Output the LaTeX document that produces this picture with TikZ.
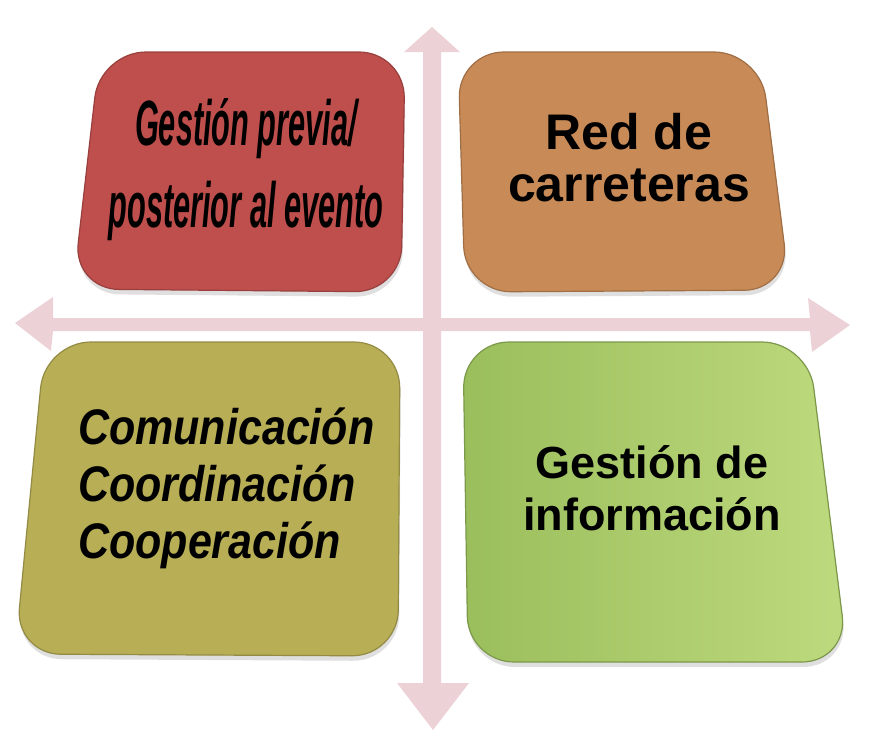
\documentclass[tikz,border=0pt]{standalone}
\usepackage{fontspec}
\setmainfont{Liberation Sans}
\usetikzlibrary{shadows}
\definecolor{axispink}{RGB}{236,210,214}
\definecolor{tilered}{RGB}{191,79,76}
\definecolor{tileorange}{RGB}{200,138,86}
\definecolor{tileolive}{RGB}{184,174,85}
\definecolor{tilegreenL}{RGB}{155,190,92}
\definecolor{tilegreenR}{RGB}{190,218,126}
\tikzset{
  panel/.style={rounded corners=46pt, line width=1.2pt,
    drop shadow={opacity=0.25, shadow xshift=1pt, shadow yshift=-5pt}},
  label/.style={inner sep=0pt, text=black}
}
\begin{document}
\begin{tikzpicture}[x=1pt, y=-1pt]
    \useasboundingbox (0,0) rectangle (876,747);
    % crossing axes
    \coordinate (n) at (432,27); \coordinate (s) at (433,730); \coordinate (w) at (15,323); \coordinate (e) at (850,325);
    \fill[axispink] (n) -- (460,52) -- (441,52) -- (441,683) -- (469,683) -- (s)
        -- (397,683) -- (423,683) -- (423,52) -- (404,52) -- cycle;
    \fill[axispink] (w) -- (53,297) -- (53,318) -- (810,318) -- (808,298) -- (e)
        -- (812,352) -- (810,331) -- (53,331) -- (51,351) -- cycle;
    % four tiles
    \draw[panel, fill=tilered, draw=tilered!80!black] (100,52) -- (405,52) -- (401,292) -- (73,289) -- cycle;
    \draw[panel, fill=tileorange, draw=tileorange!80!black] (458,52) -- (760,52) -- (790,290) -- (465,292) -- cycle;
    \draw[panel, fill=tileolive, draw=tileolive!80!black] (45,342) -- (400,342) -- (398,656) -- (15,654) -- cycle;
    \draw[panel, left color=tilegreenL, right color=tilegreenR, draw=tilegreenL!80!black] (463,342) -- (808,342) -- (848,662) -- (468,662) -- cycle;
    % texts
    \node[label, align=center, xscale=0.48, font=\bfseries\itshape\fontsize{64}{82}\selectfont] (previa) at (246,170) {Gestión previa/\\posterior al evento};
    \node[label, align=center, font=\bfseries\fontsize{50}{52}\selectfont] (red) at (629,158) {Red de\\carreteras};
    \node[label, align=left, anchor=north west, xscale=0.86, font=\bfseries\itshape\fontsize{50}{57}\selectfont] (com) at (78,408) {Comunicación\\Coordinación\\Cooperación};
    \node[label, align=center, font=\bfseries\fontsize{45}{52}\selectfont] (info) at (652,488) {Gestión de\\información};
\end{tikzpicture}
\end{document}
